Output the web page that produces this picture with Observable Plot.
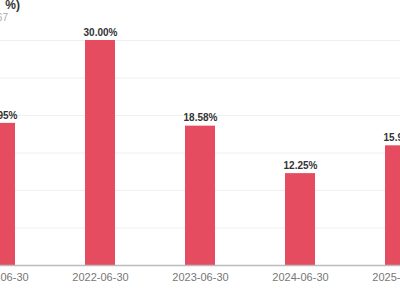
<!DOCTYPE html>
<html><head><meta charset="utf-8">
<script src="https://cdn.jsdelivr.net/npm/d3@7"></script>
<script src="https://cdn.jsdelivr.net/npm/@observablehq/plot@0.6"></script>
<style>
html,body{margin:0;padding:0;width:400px;height:300px;overflow:hidden;background:#fff;font-family:"Liberation Sans",Arial,sans-serif;}
#wrap{position:relative;width:400px;height:300px;overflow:hidden;}
#title{position:absolute;top:-2px;left:-180px;width:200px;line-height:14px;text-align:right;font-size:12px;font-weight:bold;color:#333;white-space:nowrap;font-family:"Liberation Sans",Arial,"Noto Sans CJK SC",sans-serif;}
#sub{position:absolute;top:12px;left:-192px;width:200px;line-height:12px;text-align:right;font-size:10px;color:#aaa;white-space:nowrap;}
#chart{position:absolute;top:0;left:-50px;width:500px;height:300px;}
#chart svg{max-width:none !important;}
</style></head>
<body><div id="wrap"><div id="title">净资产收益率(单位：%)</div><div id="sub">代码: 600367</div><div id="chart"></div></div>
<script>
const dates = ["2021-06-30","2022-06-30","2023-06-30","2024-06-30","2025-06-30"];
const values = [18.95, 30.00, 18.58, 12.25, 15.96];
const yTicks = [0,5,10,15,20,25,30];
const data = dates.map((d,i)=>({date:d, value:values[i]}));
const chart = Plot.plot({
  width: 500, height: 300,
  marginLeft: 0, marginRight: 0, marginTop: 40, marginBottom: 35,
  style: {fontFamily: '"Liberation Sans", Arial, sans-serif', background: "transparent", maxWidth: "none"},
  x: {domain: dates, paddingInner: 0.7, paddingOuter: 0.35, label: null},
  y: {domain: [0, 30], label: null},
  marks: [
    Plot.gridY(yTicks, {stroke: "#eef0f4", strokeOpacity: 1}),
    Plot.barY(data, {x: "date", y: "value", fill: "#e64c5f"}),
    Plot.text(data, {x: "date", y: "value", text: d => d.value.toFixed(2) + "%", dy: -8, fontSize: 10, fontWeight: "bold", fill: "#333"}),
    Plot.ruleY([0], {stroke: "#bbb", strokeWidth: 1.5}),
    Plot.axisX({tickSize: 0, tickPadding: 8, fontSize: 11, fill: "#777", label: null}),
    Plot.axisY({ticks: [], label: null})
  ]
});
document.getElementById("chart").appendChild(chart);
</script></body></html>
